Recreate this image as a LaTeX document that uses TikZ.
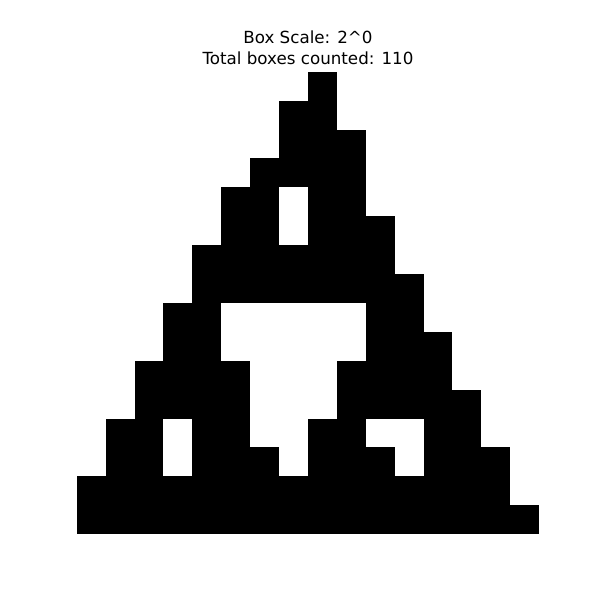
\documentclass[tikz,border=0pt]{standalone}
\usepackage{fontspec}
\setmainfont{DejaVu Sans}
\tikzset{
  cellrow/.style={fill=black},
  titletext/.style={anchor=base, inner sep=0pt, font=\fontsize{16.7}{20}\selectfont}
}
\begin{document}
\begin{tikzpicture}[x=1pt,y=-1pt]
\fill[white] (0,0) rectangle (600,600);
\useasboundingbox (0,0) rectangle (600,600);
\node[titletext] (t1) at (308,43.3) {Box Scale: 2\textasciicircum0};
\node[titletext] (t2) at (308,64) {Total boxes counted: 110};
\foreach \r/\a/\b in {0/8/8, 1/7/8, 2/7/9, 3/6/9, 4/5/6, 4/8/9, 5/5/6, 5/8/10,
  6/4/10, 7/4/11, 8/3/4, 8/10/11, 9/3/4, 9/10/12, 10/2/5, 10/9/12,
  11/2/5, 11/9/13, 12/1/2, 12/4/5, 12/8/9, 12/12/13,
  13/1/2, 13/4/6, 13/8/10, 13/12/14, 14/0/14, 15/0/15}
  \fill[cellrow] ({76.7+\a*28.9},{71.7+\r*28.9}) rectangle ({76.7+(\b+1)*28.9},{71.7+(\r+1)*28.9});
\end{tikzpicture}
\end{document}
